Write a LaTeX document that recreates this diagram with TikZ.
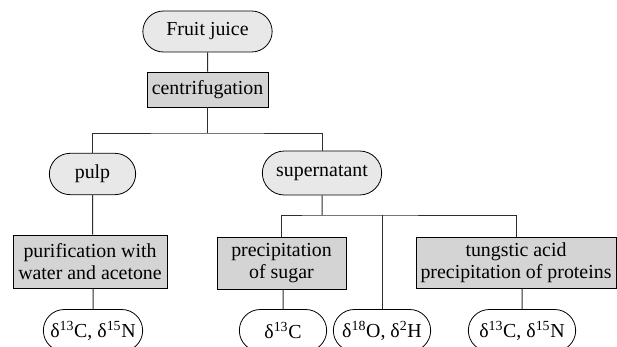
\documentclass[tikz,border=0pt]{standalone}
\usepackage{fontspec}
\setmainfont{Liberation Serif}
\usetikzlibrary{shapes.misc}
\definecolor{pillgray}{RGB}{232,232,232}
\definecolor{boxgray}{RGB}{212,212,212}
\definecolor{edgegray}{RGB}{45,45,45}

\begin{document}
\begin{tikzpicture}[x=0.75pt,y=-0.75pt]
\tikzset{every node/.style={font=\fontsize{14.9}{16.5}\selectfont,align=center,line width=0.6pt}}
\tikzset{pill/.style={rounded rectangle,draw,fill=pillgray,minimum height=31pt,inner sep=1pt}}
\tikzset{stepbox/.style={rectangle,draw,fill=boxgray,inner sep=1pt}}
\tikzset{result/.style={rounded rectangle,draw,fill=white,minimum height=31.5pt,inner sep=1pt}}
\tikzset{link/.style={draw=edgegray,line width=0.75pt}}

\clip (0,0) rectangle (617,346);
\fill[white] (0,0) rectangle (617,346);

\node[pill,minimum width=99pt,minimum height=30.75pt] (juice) at (207.5,31.5) {Fruit juice};
\node[stepbox,minimum width=90.75pt,minimum height=26.25pt] (centr) at (207.5,89.5) {centrifugation};

\node[pill,minimum width=66.75pt] (pulp) at (92.5,174) {pulp};
\node[pill,minimum width=91.5pt,minimum height=33pt] (super) at (322,173) {supernatant};

\node[stepbox,minimum width=115.5pt,minimum height=39.75pt] (purif) at (90,261.5) {purification with\\water and acetone};
\node[stepbox,minimum width=96.75pt,minimum height=39pt] (sugar) at (281.5,263) {precipitation\\of sugar};
\node[stepbox,minimum width=150pt,minimum height=38.25pt] (tung) at (516,262.5) {tungstic acid\\precipitation of proteins};

\node[result,minimum width=76.5pt] (iso1) at (93,330.5) {δ\textsuperscript{13}C, δ\textsuperscript{15}N};
\node[result,minimum width=67.5pt] (iso2) at (283,330.5) {δ\textsuperscript{13}C};
\node[result,minimum width=75pt] (iso3) at (382,330.5) {δ\textsuperscript{18}O, δ\textsuperscript{2}H};
\node[result,minimum width=82.5pt] (iso4) at (522,330.5) {δ\textsuperscript{13}C, δ\textsuperscript{15}N};

\coordinate (split1) at (207.5,133);
\coordinate (split2) at (322,215);

% connectors
\path[link] (juice) -- (centr);
\path[link] (centr) -- (split1);
\path[link] (pulp.north) |- (split1) -| (super.north);
\path[link] (pulp) -- (pulp |- purif.north);
\path[link] (purif.south -| iso1) -- (iso1);
\path[link] (super) -- (split2);
\path[link] (sugar.north) |- (split2) -| (tung.north);
\path[link] (iso3.north) -- (iso3 |- split2);
\path[link] (sugar.south -| iso2) -- (iso2);
\path[link] (tung.south -| iso4) -- (iso4);
\end{tikzpicture}
\end{document}
